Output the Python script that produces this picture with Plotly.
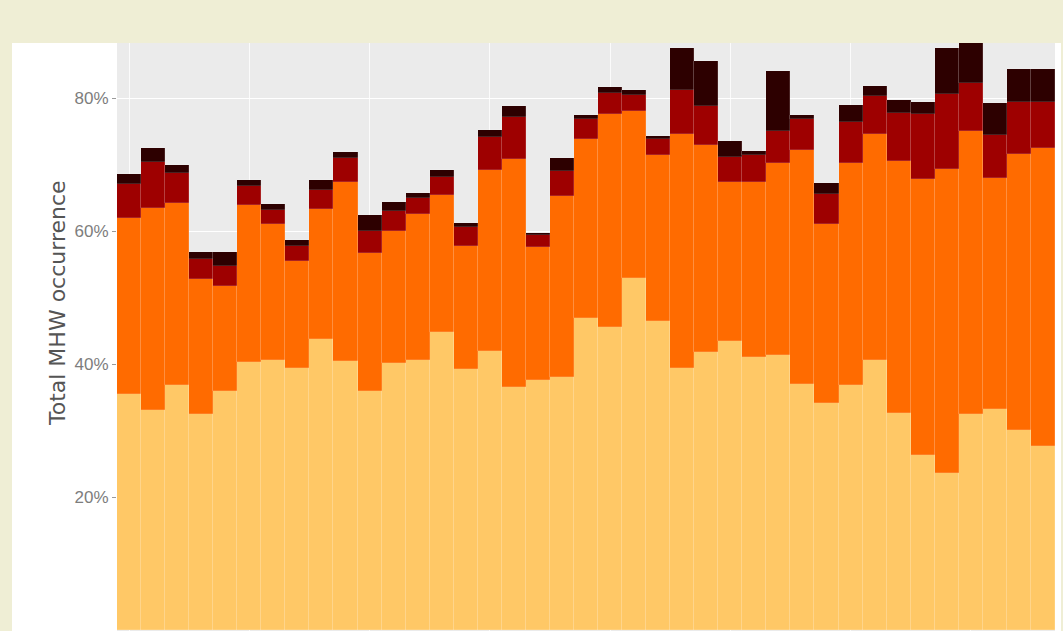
import plotly.graph_objects as go

# Years (bars) - 39 annual bars
years = list(range(1982, 2021))

# Share of total MHW occurrence by category (%)
moderate = [35.5, 33.1, 36.8, 32.5, 35.9, 40.3, 40.6, 39.4, 43.8, 40.5,
            35.9, 40.2, 40.6, 44.8, 39.2, 42.0, 36.5, 37.6, 38.0, 46.9,
            45.6, 52.9, 46.5, 39.4, 41.8, 43.5, 41.1, 41.4, 37.0, 34.1,
            36.8, 40.6, 32.6, 26.3, 23.6, 32.5, 33.2, 30.1, 27.7]
strong = [26.5, 30.4, 27.4, 20.3, 15.9, 23.6, 20.5, 16.1, 19.5, 26.9,
          20.8, 19.8, 22.0, 20.6, 18.5, 27.1, 34.4, 20.0, 27.2, 26.9,
          32.0, 25.1, 25.0, 35.2, 31.1, 23.8, 26.3, 28.9, 35.2, 26.9,
          33.4, 34.0, 38.0, 41.5, 45.7, 42.6, 34.7, 41.5, 44.8]
severe = [5.1, 6.9, 4.5, 3.0, 2.9, 2.9, 2.1, 2.3, 2.9, 3.6,
          3.3, 3.0, 2.3, 2.7, 2.9, 5.0, 6.2, 1.8, 3.8, 3.0,
          3.2, 2.4, 2.3, 6.6, 5.9, 3.9, 4.1, 4.8, 4.7, 4.5,
          6.2, 5.7, 7.1, 9.8, 11.3, 7.2, 6.5, 7.8, 6.9]
extreme = [1.4, 2.1, 1.2, 1.1, 2.1, 0.9, 0.9, 0.8, 1.5, 0.9,
           2.4, 1.4, 0.8, 1.1, 0.6, 1.1, 1.7, 0.3, 2.0, 0.6,
           0.9, 0.8, 0.5, 6.3, 6.8, 2.4, 0.5, 9.0, 0.6, 1.7,
           2.6, 1.5, 2.0, 1.8, 6.9, 7.0, 4.8, 5.0, 5.0]

series = [("Moderate", moderate, "#ffc866"),
          ("Strong", strong, "#ff6b00"),
          ("Severe", severe, "#9e0000"),
          ("Extreme", extreme, "#2d0000")]

y_ticks = [20, 40, 60, 80]
x_grid = [1982, 1987, 1992, 1997, 2002, 2007, 2012, 2017]

W, H = 1063, 631
ML, MR, MT, MB = 117, 8, 43, 0
pw = W - ML - MR
ph = H - MT - MB

fig = go.Figure()
for name, vals, col in series:
    fig.add_trace(go.Bar(
        x=years, y=vals, name=name,
        marker=dict(color=col, line=dict(width=0.6, color="rgba(255,255,255,0.22)")),
    ))

# white panel around plot (outside the plot area)
shapes = [
    dict(type="rect", xref="paper", yref="paper", layer="below",
         x0=(12 - ML) / pw, x1=0, y0=-0.05, y1=1,
         fillcolor="white", line=dict(width=0)),
    dict(type="rect", xref="paper", yref="paper", layer="below",
         x0=1, x1=(1061 - ML) / pw, y0=-0.05, y1=1,
         fillcolor="white", line=dict(width=0)),
]

fig.update_layout(
    width=W, height=H, autosize=False,
    margin=dict(l=ML, r=MR, t=MT, b=MB, pad=0),
    paper_bgcolor="#efeed5",
    plot_bgcolor="#ebebeb",
    barmode="stack", bargap=0,
    showlegend=False,
    shapes=shapes,
    xaxis=dict(range=[1981.5, 2020.5], tickvals=x_grid, showticklabels=False,
               showgrid=True, gridcolor="rgba(255,255,255,0.8)", gridwidth=1,
               zeroline=False, ticks=""),
    yaxis=dict(range=[-0.15, 88.27], tickvals=y_ticks,
               ticktext=[f"{v}%" for v in y_ticks],
               showgrid=True, gridcolor="white", gridwidth=1.4,
               zeroline=False, ticks="outside", ticklen=4, tickwidth=1,
               tickcolor="#9a9a9a",
               tickfont=dict(family="Liberation Sans, Arial", size=17, color="#7d7d7d")),
    annotations=[dict(
        text="Total MHW occurrence", textangle=-90,
        xref="paper", yref="paper",
        x=(57 - ML) / pw, y=(H - 303 - MB) / ph,
        xanchor="center", yanchor="middle", showarrow=False,
        font=dict(family="DejaVu Sans", size=22, color="#555555"))],
)

fig.write_html("out.html",
               config={"displayModeBar": False},
               post_script="document.body.style.margin='0';document.body.style.overflow='hidden';")
